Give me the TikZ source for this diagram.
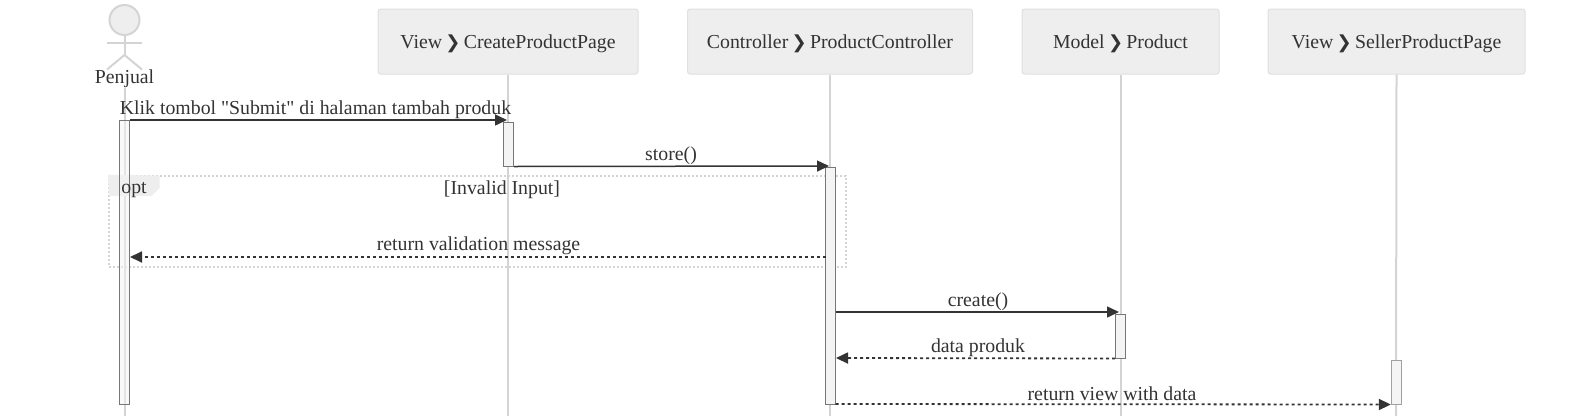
\documentclass[tikz,border=0pt]{standalone}
\usepackage{fontspec}
\newfontfamily\labelfont{Liberation Serif}
\newfontfamily\symfont{DejaVu Sans Bold}
\usetikzlibrary{arrows.meta,positioning}
\definecolor{linegray}{HTML}{D4D4D4}
\definecolor{boxgray}{HTML}{EEEEEE}
\definecolor{boxedge}{HTML}{E0E0E0}
\definecolor{actedge}{HTML}{777777}
\definecolor{actfill}{HTML}{F4F4F4}
\definecolor{inkgray}{HTML}{333333}
\newcommand{\sep}{\,{\symfont\fontsize{18}{20}\selectfont ❯}\,}
\tikzset{
    every node/.style={font=\labelfont\fontsize{19.8}{22}\selectfont, text=inkgray, inner sep=0pt},
    headbox/.style={draw=boxedge, fill=boxgray, rounded corners=2.5pt, line width=1pt, minimum height=65pt, text height=13pt, text depth=0pt},
    lifeline/.style={draw=linegray, line width=2pt},
    activation/.style={draw=actedge, fill=actfill, line width=1pt, minimum width=10pt},
    syncmsg/.style={draw=inkgray, line width=1.5pt, -{Triangle[length=12pt,width=11pt]}},
    replymsg/.style={syncmsg, line width=1.8pt, dash pattern=on 3pt off 3pt},
    actorline/.style={draw=linegray, line width=2pt}
}
\begin{document}
\begin{tikzpicture}[x=1pt,y=-1pt]
    \useasboundingbox (0,0) rectangle (1582,416);

    % participants
    \node[headbox, minimum width=260pt] (createpage) at (508,41.5) {View\sep CreateProductPage};
    \node[headbox, minimum width=285pt] (controller) at (830,41.5) {Controller\sep ProductController};
    \node[headbox, minimum width=197pt] (product) at (1120.5,41.5) {Model\sep Product};
    \node[headbox, minimum width=257pt] (sellerpage) at (1396.5,41.5) {View\sep SellerProductPage};

    % actor
    \node[circle, draw=linegray, fill=boxgray, line width=2pt, minimum size=30pt] (head) at (124.5,20) {};
    \coordinate (armL) at (107,42.5);
    \coordinate (armR) at (142,42.5);
    \coordinate (hip) at (124.5,55);
    \coordinate (legL) at (107,69.5);
    \coordinate (legR) at (142,69.5);
    \draw[actorline] (head.south) -- (hip);
    \draw[actorline] (armL) -- (armR);
    \draw[actorline] (legL) -- (hip) -- (legR);
    \node (penjual) at (124.5,79) {Penjual};

    % lifelines
    \coordinate (endpenjual) at (124.5,416);
    \coordinate (endcreate) at (508,416);
    \coordinate (endcontroller) at (830,416);
    \coordinate (endproduct) at (1120.5,416);
    \coordinate (endseller) at (1396,416);
    \draw[lifeline] (penjual.south) -- (endpenjual);
    \draw[lifeline] (createpage.south) -- (endcreate);
    \draw[lifeline] (controller.south) -- (endcontroller);
    \draw[lifeline] (product.south) -- (endproduct);
    \draw[lifeline] (sellerpage.south) -- (endseller);

    % opt frame
    \node[draw=linegray, line width=2pt, dash pattern=on 2pt off 2pt, minimum width=737pt, minimum height=91pt] (optframe) at (477.5,221.2) {};
    \fill[boxgray] (optframe.north west) -- (159.5,175.7) -- (159.5,188) -- (151.5,196) -- (109,196) -- cycle;

    % activations
    \node[activation, minimum height=284pt, fill opacity=0.5] (actpenjual) at (124.7,262) {};
    \node[activation, minimum height=44pt] (actcreate) at (508.5,144) {};
    \node[activation, minimum height=236.5pt] (actcontroller) at (830.5,286) {};
    \node[activation, minimum height=44pt] (actproduct) at (1120.7,336) {};
    \node[activation, minimum height=44pt, draw=actedge!70] (actseller) at (1396.3,382) {};

    % message ends
    \coordinate (m1a) at (130,120);
    \coordinate (m1b) at (507,120);
    \coordinate (m2b) at (829,166);
    \coordinate (m3a) at (825.5,257);
    \coordinate (m3b) at (130,257);
    \coordinate (m4a) at (835.5,312);
    \coordinate (m4b) at (1119,312);
    \coordinate (m5b) at (836,358);
    \coordinate (m6a) at (835.5,404);

    % messages
    \draw[syncmsg] (m1a) -- (m1b);
    \draw[syncmsg] (actcreate.south east) -- (m2b);
    \draw[replymsg] (m3a) -- (m3b);
    \draw[syncmsg] (m4a) -- (m4b);
    \draw[replymsg] (actproduct.south west) -- (m5b);
    \draw[replymsg] (m6a) -- (actseller.south west);

    % labels
    \node (msgsubmit) at (315.5,110) {Klik tombol "Submit" di halaman tambah produk};
    \node (msgstore) at (671,156) {store()};
    \node (optlabel) at (134,190) {opt};
    \node (optcond) at (502,190) {[Invalid Input]};
    \node (msgreturn) at (478.5,245.5) {return validation message};
    \node (msgcreate) at (978,301.5) {create()};
    \node (msgdata) at (978,347.5) {data produk};
    \node (msgview) at (1112,393.5) {return view with data};
\end{tikzpicture}
\end{document}
